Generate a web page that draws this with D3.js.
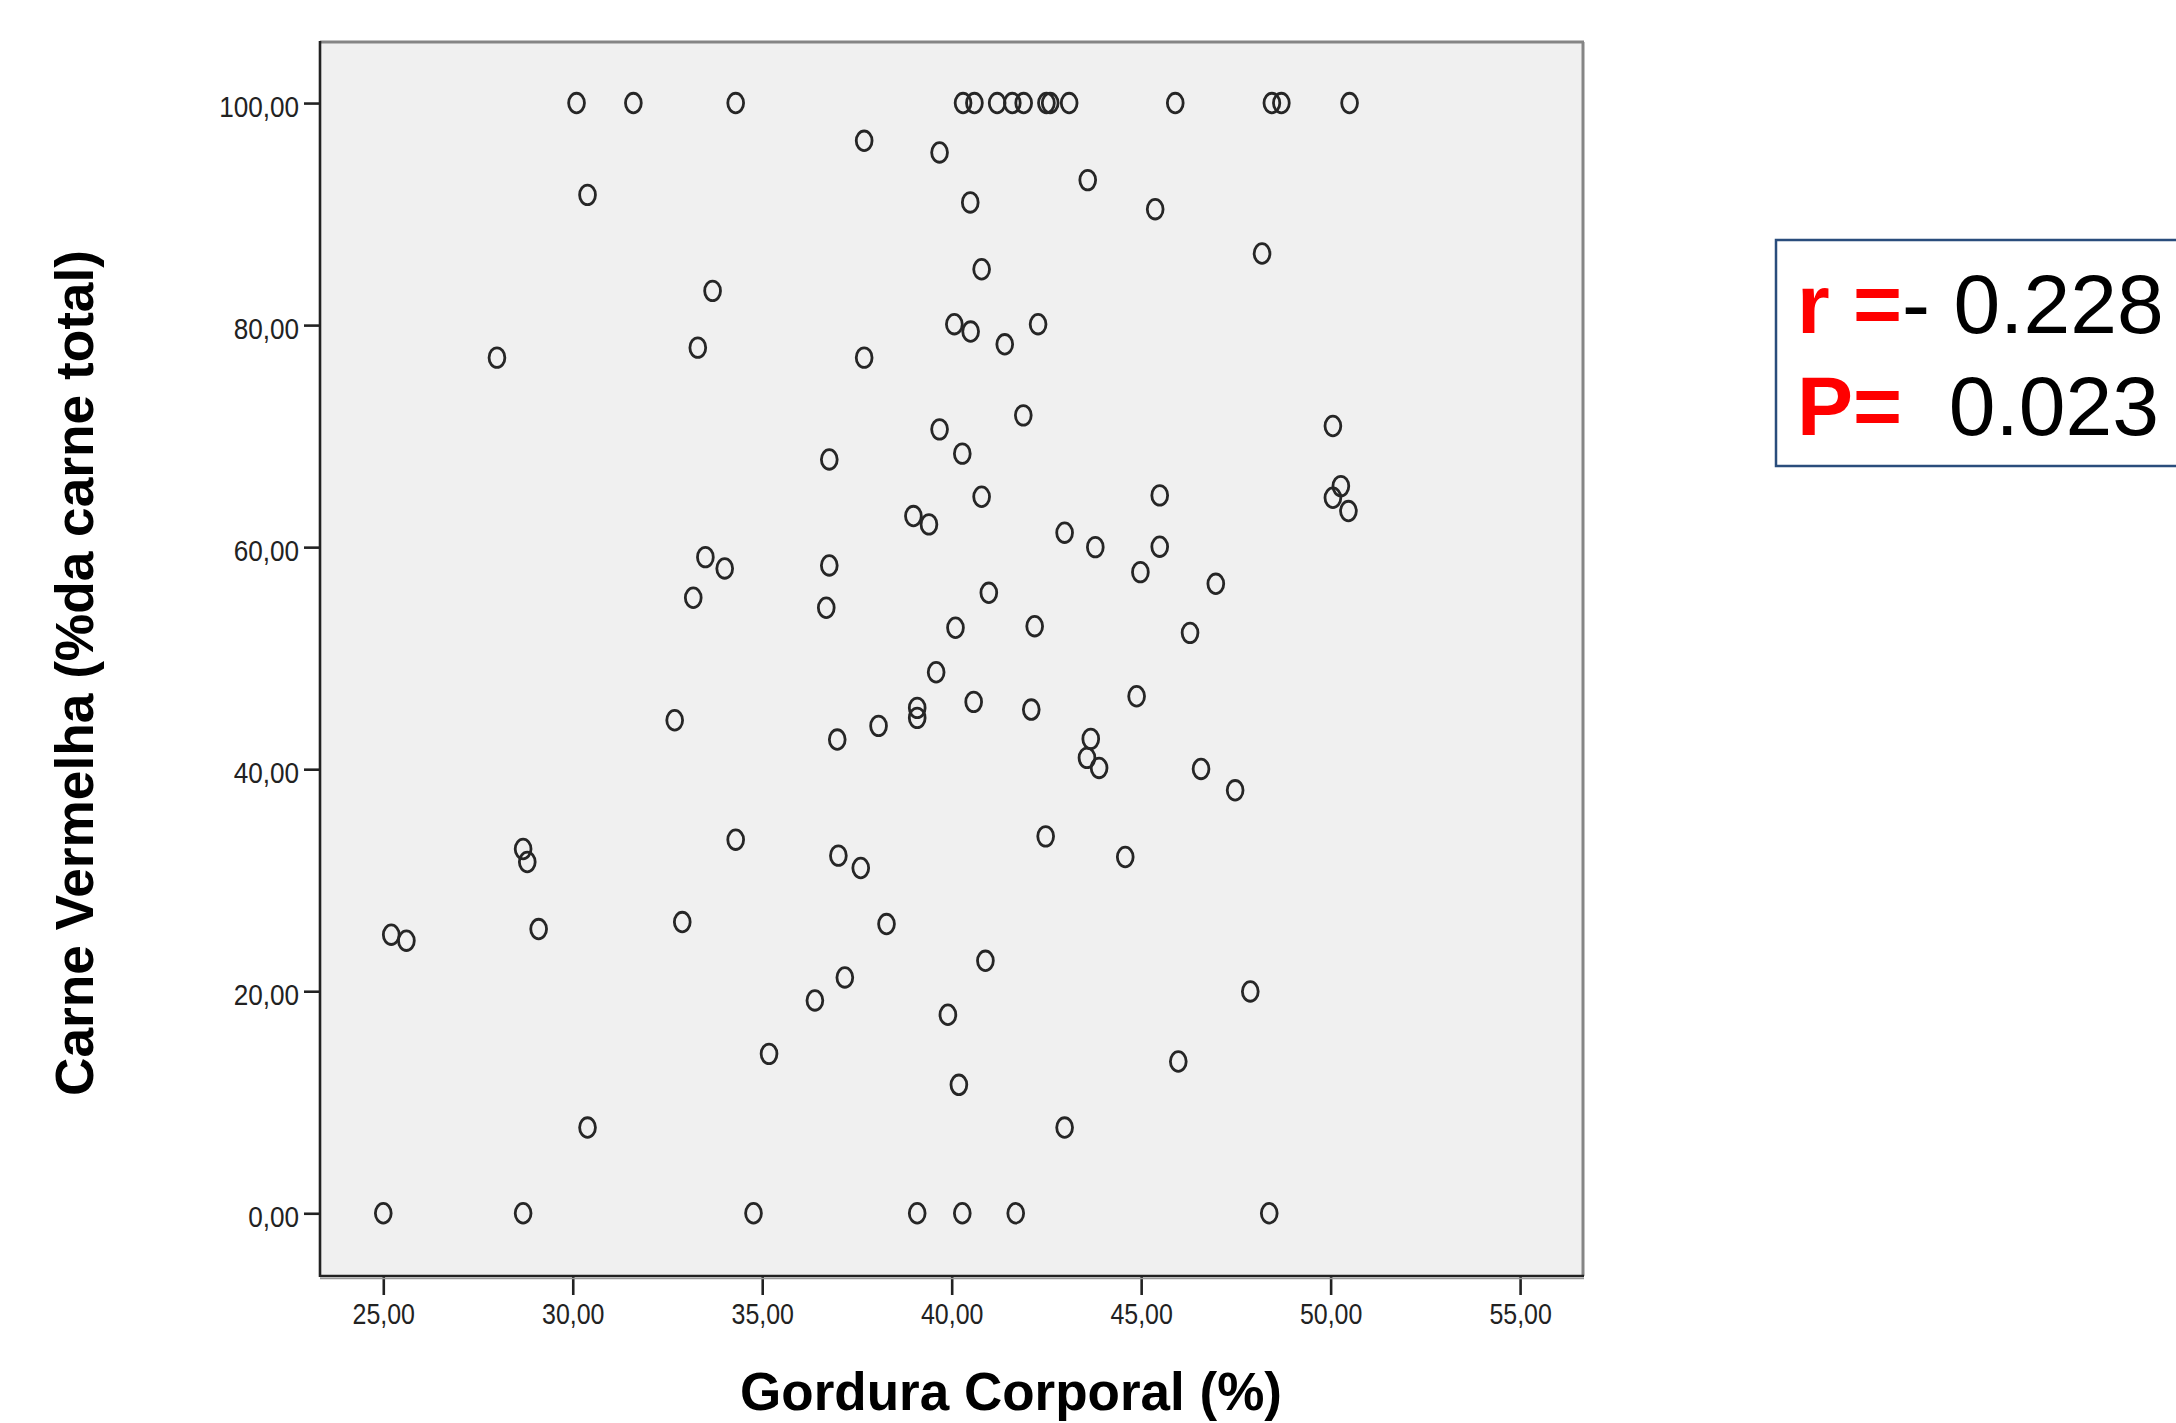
<!DOCTYPE html>
<html>
<head>
<meta charset="utf-8">
<script src="https://cdn.jsdelivr.net/npm/d3@7"></script>
<style>
  html, body { margin: 0; padding: 0; background: #ffffff; }
  svg { display: block; }
  text { font-family: "Liberation Sans", Arial, sans-serif; }
</style>
</head>
<body>
<svg id="chart" width="2176" height="1423"></svg>
<script>
// ---- Data ----
const gorduraCorporal = [
  30.1, 31.6, 34.3, 40.3, 40.6, 41.2, 41.6, 41.9, 42.5, 42.6, 43.1, 45.9, 48.45, 48.7, 50.5,
  37.69, 39.68, 43.59, 30.39, 40.49, 45.37, 48.19, 40.79, 33.69, 40.07, 42.28, 40.50, 41.40,
  33.30, 28.0, 37.69, 41.89, 50.06, 39.68, 40.28, 36.77, 50.27, 45.49, 40.79, 50.06, 50.47,
  38.99, 39.40, 42.98, 45.49, 43.79, 33.50, 36.77, 34.01, 44.98, 46.97, 40.98, 33.18, 36.69,
  42.19, 40.10, 46.29, 39.59, 44.88, 40.58, 39.09, 42.10, 39.09, 32.69, 38.07, 43.67, 36.98,
  43.57, 43.89, 46.58, 47.48, 42.48, 34.30, 28.69, 37.01, 44.58, 28.80, 37.60, 32.89, 38.28,
  29.10, 25.21, 25.61, 40.89, 37.18, 47.88, 36.39, 39.90, 35.18, 45.98, 40.19, 30.39, 42.98,
  25.0, 28.69, 34.77, 39.09, 40.28, 41.69, 48.38
];
const carneVermelha = [
  100, 100, 100, 100, 100, 100, 100, 100, 100, 100, 100, 100, 100, 100, 100,
  96.6, 95.55, 93.06, 91.73, 91.05, 90.44, 86.45, 85.03, 83.08, 80.08, 80.08, 79.42, 78.27,
  77.97, 77.07, 77.07, 71.87, 70.91, 70.61, 68.42, 67.9, 65.5, 64.66, 64.54, 64.45, 63.25,
  62.80, 62.05, 61.30, 60.04, 60.0, 59.10, 58.35, 58.08, 57.75, 56.70, 55.89, 55.44, 54.54,
  52.88, 52.74, 52.28, 48.73, 46.57, 46.06, 45.52, 45.37, 44.62, 44.41, 43.9, 42.73, 42.67,
  41.02, 40.11, 40.02, 38.10, 33.95, 33.65, 32.81, 32.21, 32.09, 31.64, 31.10, 26.23, 26.05,
  25.60, 25.09, 24.55, 22.74, 21.24, 19.98, 19.17, 17.88, 14.36, 13.67, 11.57, 7.72, 7.72,
  0, 0, 0, 0, 0, 0, 0
];
const xTicks = [25, 30, 35, 40, 45, 50, 55];
const yTicks = [0, 20, 40, 60, 80, 100];
const xTitle = "Gordura Corporal (%)";
const yTitle = "Carne Vermelha (%da carne total)";
const statLines = [
  { label: "r =", value: "- 0.228" },
  { label: "P=", value: "  0.023" }
];

const points = gorduraCorporal.map((g, i) => ({ x: g, y: carneVermelha[i] }));

// ---- Layout ----
const svg = d3.select("#chart");
const L = 320, R = 1583, T = 42, B = 1276;

const x = d3.scaleLinear().domain([23.33, 56.66]).range([L, R]);
const y = d3.scaleLinear().domain([-5.65, 105.5]).range([B, T]);

const fmt = d => d.toFixed(2).replace(".", ",");

// plot background
svg.append("rect")
  .attr("x", L).attr("y", T).attr("width", R - L).attr("height", B - T)
  .attr("fill", "#f0f0f0");

// frame: top & right grey, left & bottom dark
svg.append("line").attr("x1", L).attr("x2", R + 1).attr("y1", T).attr("y2", T)
  .attr("stroke", "#858585").attr("stroke-width", 3);
svg.append("line").attr("x1", R).attr("x2", R).attr("y1", T).attr("y2", B)
  .attr("stroke", "#858585").attr("stroke-width", 3);

// points
svg.append("g").selectAll("ellipse").data(points).join("ellipse")
  .attr("cx", d => x(d.x)).attr("cy", d => y(d.y))
  .attr("rx", 7.9).attr("ry", 9.8)
  .attr("fill", "none").attr("stroke", "#262626").attr("stroke-width", 2.8);

// axes
const xAxis = svg.append("g").attr("transform", `translate(0,${B})`)
  .call(d3.axisBottom(x).tickValues(xTicks).tickFormat(fmt).tickSize(19).tickPadding(8));
const yAxis = svg.append("g").attr("transform", `translate(${L},0)`)
  .call(d3.axisLeft(y).tickValues(yTicks).tickFormat(fmt).tickSize(16).tickPadding(5));

[xAxis, yAxis].forEach((ax, k) => {
  ax.select(".domain").remove();
  ax.selectAll(".tick line").attr("stroke", "#222").attr("stroke-width", 2.6);
  ax.selectAll(".tick text")
    .attr("font-family", "'Liberation Sans', Arial, sans-serif")
    .attr("font-size", 29).attr("fill", "#222")
    .each(function () {
      const w = this.getComputedTextLength();
      d3.select(this).attr("textLength", w * (k === 0 ? 0.86 : 0.9)).attr("lengthAdjust", "spacingAndGlyphs");
    });
});
yAxis.selectAll(".tick text").attr("dy", "0.45em");

svg.append("line").attr("x1", L).attr("x2", L).attr("y1", T - 1).attr("y2", B + 1)
  .attr("stroke", "#222").attr("stroke-width", 2.6);
svg.append("line").attr("x1", L).attr("x2", R + 1).attr("y1", B).attr("y2", B)
  .attr("stroke", "#222").attr("stroke-width", 2.6);
svg.append("line").attr("x1", L).attr("x2", R + 1).attr("y1", B + 2.5).attr("y2", B + 2.5)
  .attr("stroke", "#9a9a9a").attr("stroke-width", 1.5);

// axis titles
svg.append("text")
  .attr("x", 1011).attr("y", 1410)
  .attr("text-anchor", "middle")
  .attr("font-size", 53).attr("font-weight", "bold").attr("fill", "#000")
  .attr("textLength", 542).attr("lengthAdjust", "spacingAndGlyphs")
  .text(xTitle);

svg.append("text")
  .attr("transform", "translate(93,673) rotate(-90)")
  .attr("text-anchor", "middle")
  .attr("font-size", 53).attr("font-weight", "bold").attr("fill", "#000")
  .attr("textLength", 846).attr("lengthAdjust", "spacingAndGlyphs")
  .text(yTitle);

// stats box
svg.append("rect")
  .attr("x", 1776).attr("y", 240).attr("width", 440).attr("height", 226)
  .attr("fill", "#fff").attr("stroke", "#2a4d7c").attr("stroke-width", 2.5);

const stat = svg.append("g");
statLines.forEach((s, i) => {
  const t = stat.append("text")
    .attr("x", 1797).attr("y", 333 + i * 102)
    .attr("font-size", 84)
    .style("white-space", "pre");
  t.append("tspan").attr("font-weight", "bold").attr("fill", "#ff0000").text(s.label);
  t.append("tspan").attr("fill", "#000").text(s.value);
});
</script>
</body>
</html>
